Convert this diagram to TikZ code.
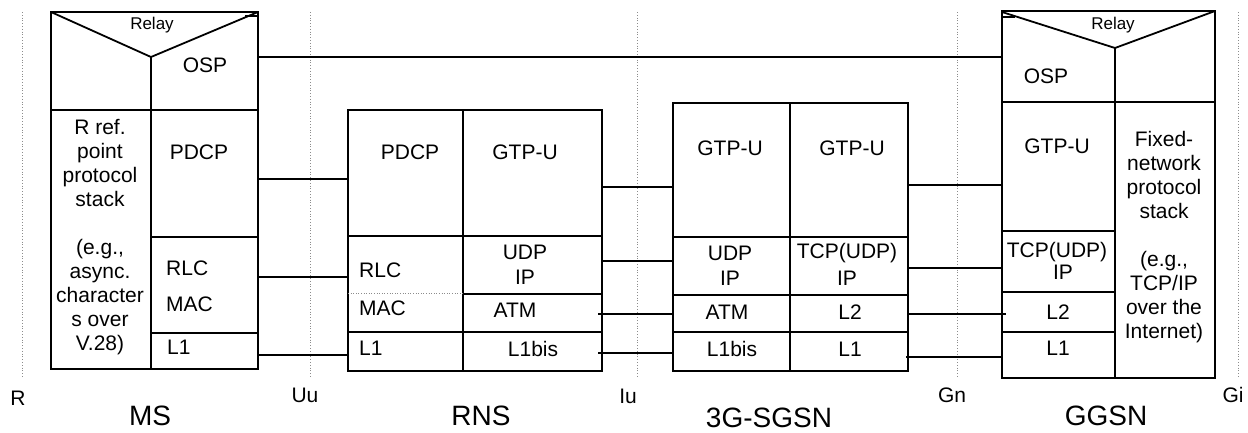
\documentclass[tikz,border=0pt]{standalone}
\usepackage{fontspec}
\setmainfont{Liberation Sans}
\definecolor{dotgray}{rgb}{0.55,0.55,0.55}

\begin{document}
\begin{tikzpicture}[x=1pt,y=-1pt,
	box/.style={line width=1.8pt},
	thickbox/.style={line width=2.8pt},
	link/.style={line width=1.6pt},
	ifline/.style={color=dotgray,dotted,line width=0.8pt},
	lab/.style={inner sep=0pt,font=\fontsize{21}{24}\selectfont},
	small/.style={inner sep=0pt,font=\fontsize{17}{20}\selectfont},
	big/.style={inner sep=0pt,font=\fontsize{28}{32}\selectfont}]
			\useasboundingbox (0,0) rectangle (1248,432);
			% reference points
			\foreach \x in {22,310,637,957,1238}
				\draw [ifline] (\x,12) -- (\x,377);
			\node [lab] (rR) at (18,398) {R};
			\node [lab] (rUu) at (305,395) {Uu};
			\node [lab] (rIu) at (628,396) {Iu};
			\node [lab] (rGn) at (952,395) {Gn};
			\node [lab] (rGi) at (1233,395) {Gi};
			% MS
			\draw [box] (51,12) rectangle (258,369);
			\draw [box] (51,12) -- (151,57) -- (258,12);
			\draw [box] (245,16) -- (258,16);
			\draw [box] (151,57) -- (151,369);
			\draw [box] (51,110) -- (258,110);
			\draw [box] (151,237) -- (258,237);
			\draw [box] (151,333) -- (258,333);
			\node [small] (msRelay) at (152,25) {Relay};
			\node [lab] (msOSP) at (205,65) {OSP};
			\node [lab,align=center] (msR) at (100,237) {R ref.\\point\\protocol\\stack\\[24pt](e.g.,\\async.\\character\\s over\\V.28)};
			\node [lab] (msPDCP) at (199,152) {PDCP};
			\node [lab,anchor=west] (msRLC) at (166,268) {RLC};
			\node [lab,anchor=west] (msMAC) at (166,304) {MAC};
			\node [lab,anchor=west] (msL1) at (167,347) {L1};
			\node [big] (ms) at (150,416) {MS};
			% RNS
			\draw [box] (348,110) rectangle (602,371);
			\draw [box] (463,110) -- (463,371);
			\draw [box] (348,236) -- (602,236);
			\draw [ifline,line width=0.6pt] (348,293) -- (463,293);
			\draw [box] (463,294) -- (602,294);
			\draw [box] (348,332) -- (602,332);
			\node [lab] (rnPDCP) at (410,152) {PDCP};
			\node [lab] (rnGTP) at (525,152) {GTP-U};
			\node [lab,anchor=west] (rnRLC) at (359,270) {RLC};
			\node [lab,anchor=west] (rnMAC) at (359,308) {MAC};
			\node [lab,anchor=west] (rnL1) at (359,348) {L1};
			\node [lab] (rnUDP) at (525,252) {UDP};
			\node [lab] (rnIP) at (525,277) {IP};
			\node [lab] (rnATM) at (515,310) {ATM};
			\node [lab] (rnL1bis) at (533,349) {L1bis};
			\node [big] (rns) at (481,416) {RNS};
			% 3G-SGSN
			\draw [box] (673,103) rectangle (908,371);
			\draw [box] (790,103) -- (790,371);
			\draw [box] (673,237) -- (908,237);
			\draw [box] (673,295) -- (908,295);
			\draw [box] (673,332) -- (908,332);
			\node [lab] (sgGTPa) at (730,148) {GTP-U};
			\node [lab] (sgGTPb) at (852,148) {GTP-U};
			\node [lab] (sgUDP) at (730,253) {UDP};
			\node [lab] (sgIPa) at (730,278) {IP};
			\node [lab] (sgTCP) at (847,253) {TCP(UDP)};
			\node [lab] (sgIPb) at (847,278) {IP};
			\node [lab] (sgATM) at (727,312) {ATM};
			\node [lab] (sgL2) at (850,312) {L2};
			\node [lab] (sgL1bis) at (732,349) {L1bis};
			\node [lab] (sgL1) at (850,349) {L1};
			\node [big] (sgsn) at (769,418) {3G-SGSN};
			% GGSN
			\draw [thickbox] (1002,11) rectangle (1215,378);
			\draw [box] (1002,12) -- (1115,48) -- (1215,11);
			\draw [box] (1002,17) -- (1015,17);
			\draw [box] (1115,48) -- (1115,378);
			\draw [box] (1002,102) -- (1215,102);
			\draw [box] (1002,231) -- (1115,231);
			\draw [box] (1002,292) -- (1115,292);
			\draw [box] (1002,332) -- (1115,332);
			\node [small] (ggRelay) at (1113,25) {Relay};
			\node [lab] (ggOSP) at (1046,76) {OSP};
			\node [lab] (ggGTP) at (1057,146) {GTP-U};
			\node [lab] (ggTCP) at (1057,252) {TCP(UDP)};
			\node [lab] (ggIP) at (1063,272) {IP};
			\node [lab] (ggL2) at (1058,312) {L2};
			\node [lab] (ggL1) at (1058,348) {L1};
			\node [lab,align=center] (ggFix) at (1164,237) {Fixed-\\network\\protocol\\stack\\[23.5pt](e.g.,\\TCP/IP\\over the\\Internet)};
			\node [big] (ggsn) at (1106,416) {GGSN};
			% connectors
			\coordinate (msA) at (258,57);
			\coordinate (ggA) at (1002,57);
			\coordinate (msB) at (258,179);
			\coordinate (rnB) at (348,179);
			\coordinate (msC) at (258,277);
			\coordinate (rnC) at (348,277);
			\coordinate (msD) at (258,355);
			\coordinate (rnD) at (348,355);
			\coordinate (rnE) at (602,187);
			\coordinate (sgE) at (673,187);
			\coordinate (rnF) at (602,261);
			\coordinate (sgF) at (673,261);
			\coordinate (rnG) at (598,314);
			\coordinate (sgG) at (673,314);
			\coordinate (rnH) at (598,353);
			\coordinate (sgH) at (673,353);
			\coordinate (sgI) at (908,185);
			\coordinate (ggI) at (1002,185);
			\coordinate (sgJ) at (908,268);
			\coordinate (ggJ) at (1002,268);
			\coordinate (sgK) at (908,314);
			\coordinate (ggK) at (1006,314);
			\coordinate (sgL) at (906,357);
			\coordinate (ggL) at (1002,357);
			\draw [link] (msA) -- (ggA);
			\draw [link] (msB) -- (rnB);
			\draw [link] (msC) -- (rnC);
			\draw [link] (msD) -- (rnD);
			\draw [link] (rnE) -- (sgE);
			\draw [link] (rnF) -- (sgF);
			\draw [link] (rnG) -- (sgG);
			\draw [link] (rnH) -- (sgH);
			\draw [link] (sgI) -- (ggI);
			\draw [link] (sgJ) -- (ggJ);
			\draw [link] (sgK) -- (ggK);
			\draw [link] (sgL) -- (ggL);
		\end{tikzpicture}
\end{document}
